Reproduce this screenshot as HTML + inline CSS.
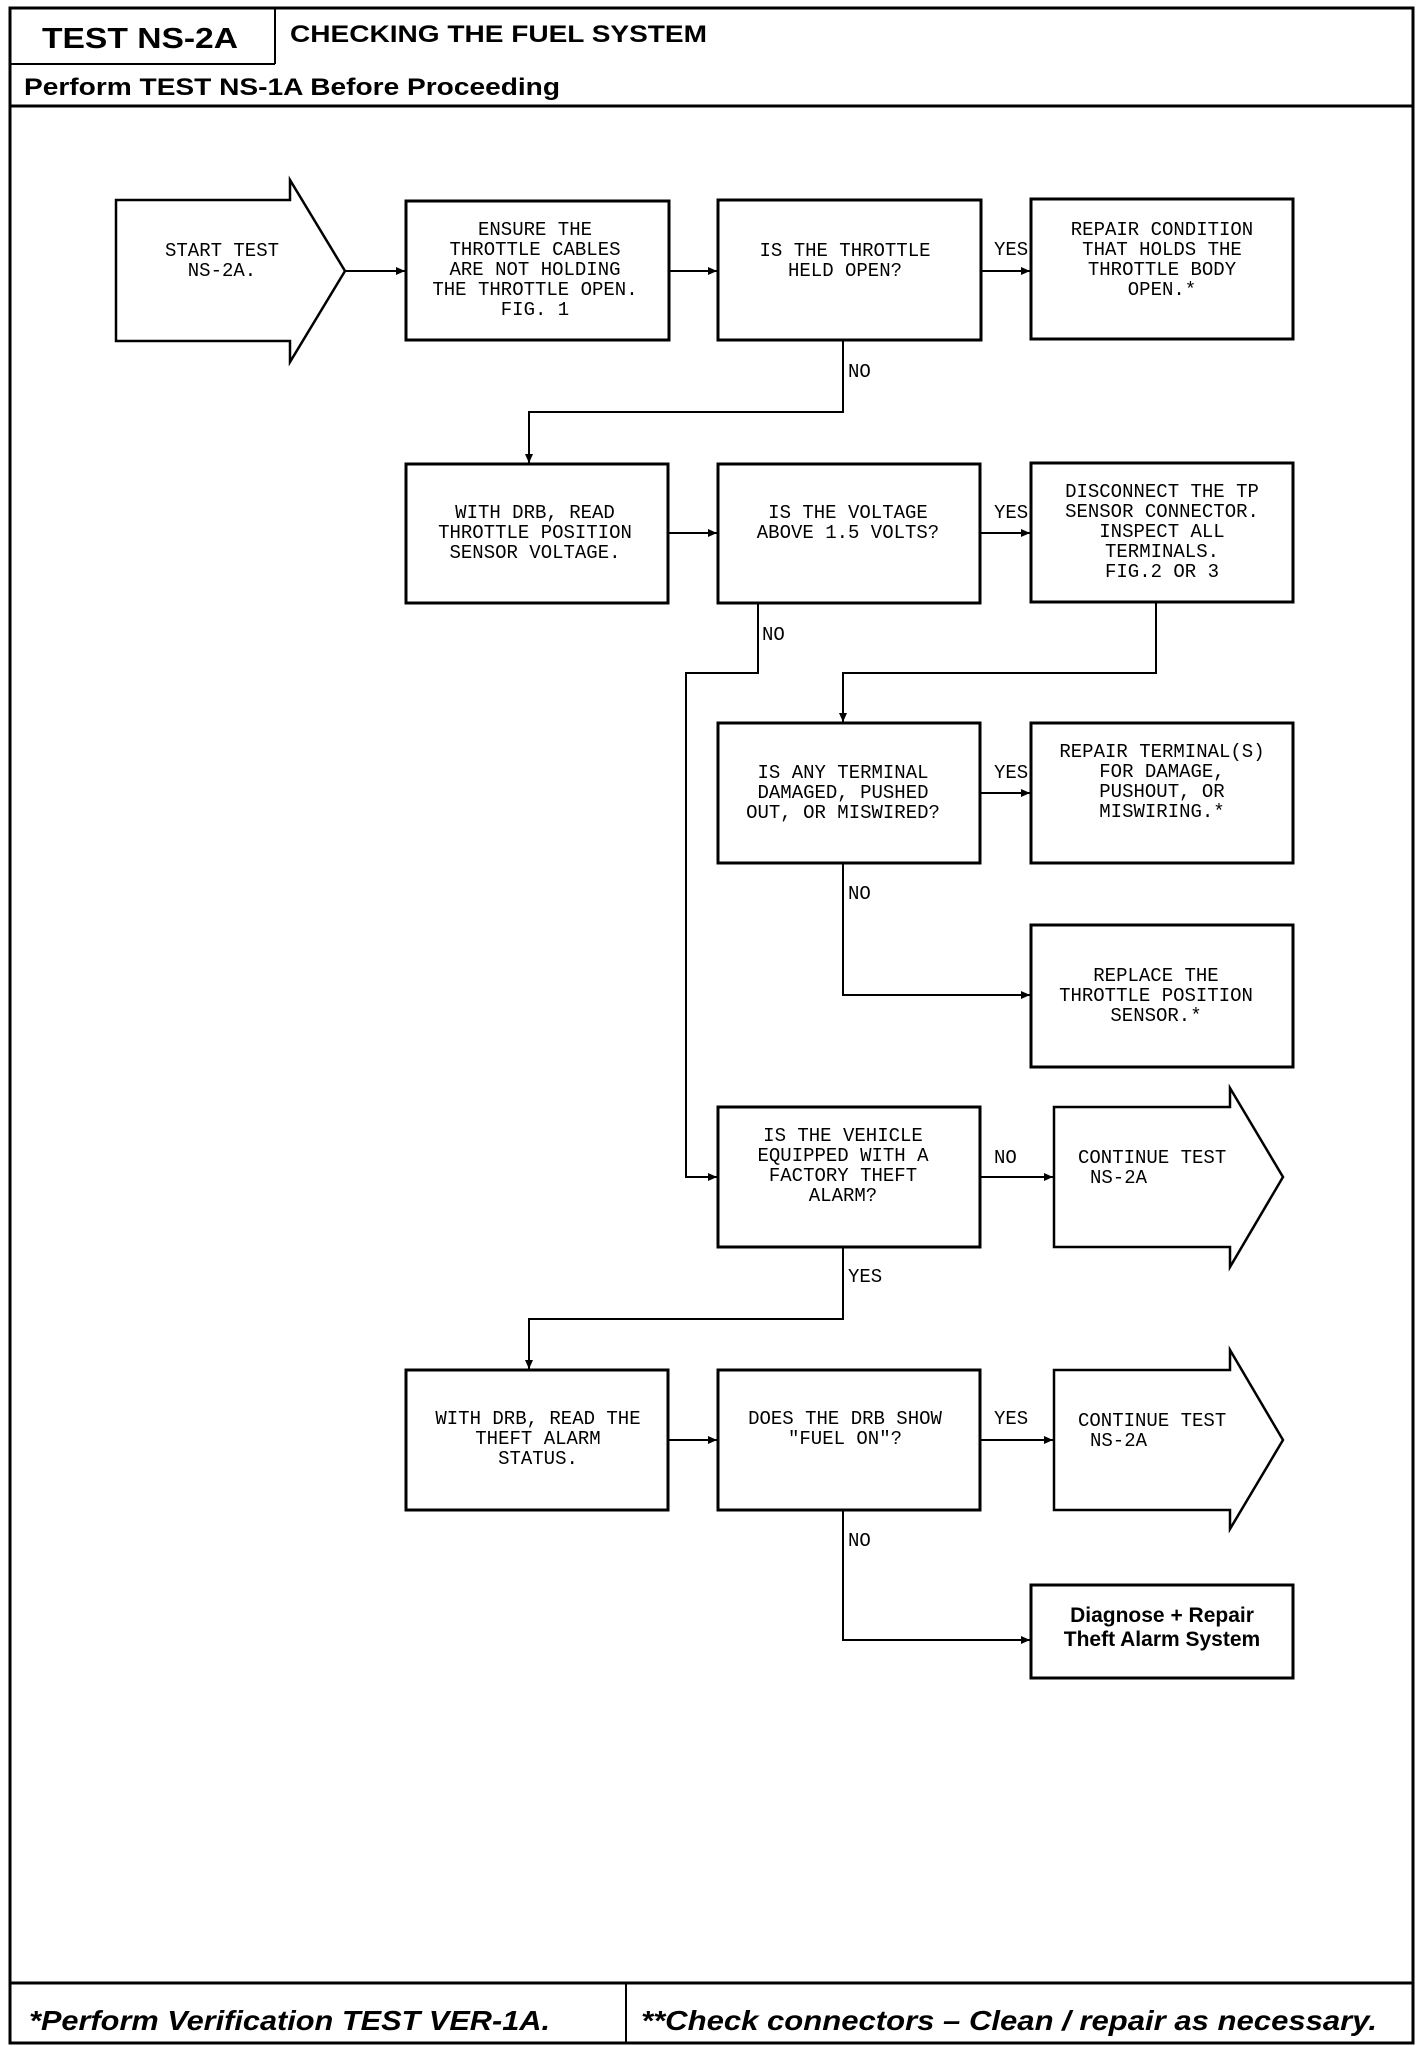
<!DOCTYPE html>
<html><head><meta charset="utf-8"><style>
html,body{margin:0;padding:0;background:#fff}
svg{display:block}
.m{font-family:"Liberation Mono",monospace;font-size:19px;fill:#000}
.b{font-family:"Liberation Sans",sans-serif;font-weight:bold;fill:#000}
</style></head><body>
<svg width="1424" height="2046" viewBox="0 0 1424 2046" xmlns="http://www.w3.org/2000/svg">
<defs><marker id="a" markerWidth="10" markerHeight="10" refX="9" refY="5" orient="auto" markerUnits="userSpaceOnUse"><path d="M0,1 L9,5 L0,9 Z" fill="#000"/></marker></defs>
<g fill="none" stroke="#000">
<rect x="10" y="8" width="1403" height="2035" stroke-width="3"/>
<line x1="275" y1="8" x2="275" y2="64" stroke-width="2"/>
<line x1="10" y1="64" x2="275" y2="64" stroke-width="2"/>
<line x1="10" y1="106" x2="1413" y2="106" stroke-width="3"/>
<line x1="10" y1="1983" x2="1413" y2="1983" stroke-width="3"/>
<line x1="626" y1="1983" x2="626" y2="2043" stroke-width="2"/>
<g stroke-width="3">
<path d="M116,200 H290 V180 L345,271 L290,362 V341 H116 Z" stroke-width="2.5"/>
<rect x="406" y="201" width="263" height="139"/>
<rect x="718" y="200" width="263" height="140"/>
<rect x="1031" y="199" width="262" height="140"/>
<rect x="406" y="464" width="262" height="139"/>
<rect x="718" y="464" width="262" height="139"/>
<rect x="1031" y="463" width="262" height="139"/>
<rect x="718" y="723" width="262" height="140"/>
<rect x="1031" y="723" width="262" height="140"/>
<rect x="1031" y="925" width="262" height="142"/>
<rect x="718" y="1107" width="262" height="140"/>
<path d="M1054,1107 H1230 V1088 L1283,1177 L1230,1267 V1247 H1054 Z" stroke-width="2.5"/>
<rect x="406" y="1370" width="262" height="140"/>
<rect x="718" y="1370" width="262" height="140"/>
<path d="M1054,1370 H1230 V1350 L1283,1440 L1230,1529 V1510 H1054 Z" stroke-width="2.5"/>
<rect x="1031" y="1585" width="262" height="93"/>
</g>
<g stroke-width="2" marker-end="url(#a)">
<line x1="345" y1="271" x2="405" y2="271"/>
<line x1="669" y1="271" x2="717" y2="271"/>
<line x1="981" y1="271" x2="1030" y2="271"/>
<path d="M843,340 V412 H529 V463"/>
<line x1="668" y1="533" x2="717" y2="533"/>
<line x1="980" y1="533" x2="1030" y2="533"/>
<path d="M758,603 V673 H686 V1177 H717"/>
<path d="M1156,602 V673 H843 V722"/>
<line x1="980" y1="793" x2="1030" y2="793"/>
<path d="M843,863 V995 H1030"/>
<line x1="980" y1="1177" x2="1053" y2="1177"/>
<path d="M843,1247 V1319 H529 V1369"/>
<line x1="668" y1="1440" x2="717" y2="1440"/>
<line x1="980" y1="1440" x2="1053" y2="1440"/>
<path d="M843,1510 V1640 H1030"/>
</g>
</g>
<text x="42" y="48" class="b" font-size="29" textLength="196" lengthAdjust="spacingAndGlyphs">TEST NS-2A</text>
<text x="290" y="42" class="b" font-size="24" textLength="417" lengthAdjust="spacingAndGlyphs">CHECKING THE FUEL SYSTEM</text>
<text x="24" y="95" class="b" font-size="24" textLength="536" lengthAdjust="spacingAndGlyphs">Perform TEST NS-1A Before Proceeding</text>
<text x="29" y="2030" class="b" font-size="28" font-style="italic" textLength="521" lengthAdjust="spacingAndGlyphs">*Perform Verification TEST VER-1A.</text>
<text x="641" y="2030" class="b" font-size="28" font-style="italic" textLength="736" lengthAdjust="spacingAndGlyphs">**Check connectors – Clean / repair as necessary.</text>
<g class="m" text-anchor="middle">
<text x="222" y="256">START TEST</text><text x="222" y="276">NS-2A.</text>
<text x="535" y="235">ENSURE THE</text><text x="535" y="255">THROTTLE CABLES</text><text x="535" y="275">ARE NOT HOLDING</text><text x="535" y="295">THE THROTTLE OPEN.</text><text x="535" y="315">FIG. 1</text>
<text x="845" y="256">IS THE THROTTLE</text><text x="845" y="276">HELD OPEN?</text>
<text x="1162" y="235">REPAIR CONDITION</text><text x="1162" y="255">THAT HOLDS THE</text><text x="1162" y="275">THROTTLE BODY</text><text x="1162" y="295">OPEN.*</text>
<text x="535" y="518">WITH DRB, READ</text><text x="535" y="538">THROTTLE POSITION</text><text x="535" y="558">SENSOR VOLTAGE.</text>
<text x="848" y="518">IS THE VOLTAGE</text><text x="848" y="538">ABOVE 1.5 VOLTS?</text>
<text x="1162" y="497">DISCONNECT THE TP</text><text x="1162" y="517">SENSOR CONNECTOR.</text><text x="1162" y="537">INSPECT ALL</text><text x="1162" y="557">TERMINALS.</text><text x="1162" y="577">FIG.2 OR 3</text>
<text x="843" y="778">IS ANY TERMINAL</text><text x="843" y="798">DAMAGED, PUSHED</text><text x="843" y="818">OUT, OR MISWIRED?</text>
<text x="1162" y="757">REPAIR TERMINAL(S)</text><text x="1162" y="777">FOR DAMAGE,</text><text x="1162" y="797">PUSHOUT, OR</text><text x="1162" y="817">MISWIRING.*</text>
<text x="1156" y="981">REPLACE THE</text><text x="1156" y="1001">THROTTLE POSITION</text><text x="1156" y="1021">SENSOR.*</text>
<text x="843" y="1141">IS THE VEHICLE</text><text x="843" y="1161">EQUIPPED WITH A</text><text x="843" y="1181">FACTORY THEFT</text><text x="843" y="1201">ALARM?</text>
<text x="538" y="1424">WITH DRB, READ THE</text><text x="538" y="1444">THEFT ALARM</text><text x="538" y="1464">STATUS.</text>
<text x="845" y="1424">DOES THE DRB SHOW</text><text x="845" y="1444">"FUEL ON"?</text>
</g>
<g class="m">
<text x="1078" y="1163">CONTINUE TEST</text><text x="1090" y="1183">NS-2A</text>
<text x="1078" y="1426">CONTINUE TEST</text><text x="1090" y="1446">NS-2A</text>
<text x="994" y="255">YES</text><text x="848" y="377">NO</text>
<text x="994" y="518">YES</text><text x="762" y="640">NO</text>
<text x="994" y="778">YES</text><text x="848" y="899">NO</text>
<text x="994" y="1163">NO</text><text x="848" y="1282">YES</text>
<text x="994" y="1424">YES</text><text x="848" y="1546">NO</text>
</g>
<text x="1162" y="1622" class="b" font-size="21" text-anchor="middle">Diagnose + Repair</text>
<text x="1162" y="1646" class="b" font-size="21" text-anchor="middle">Theft Alarm System</text>
</svg>
</body></html>
